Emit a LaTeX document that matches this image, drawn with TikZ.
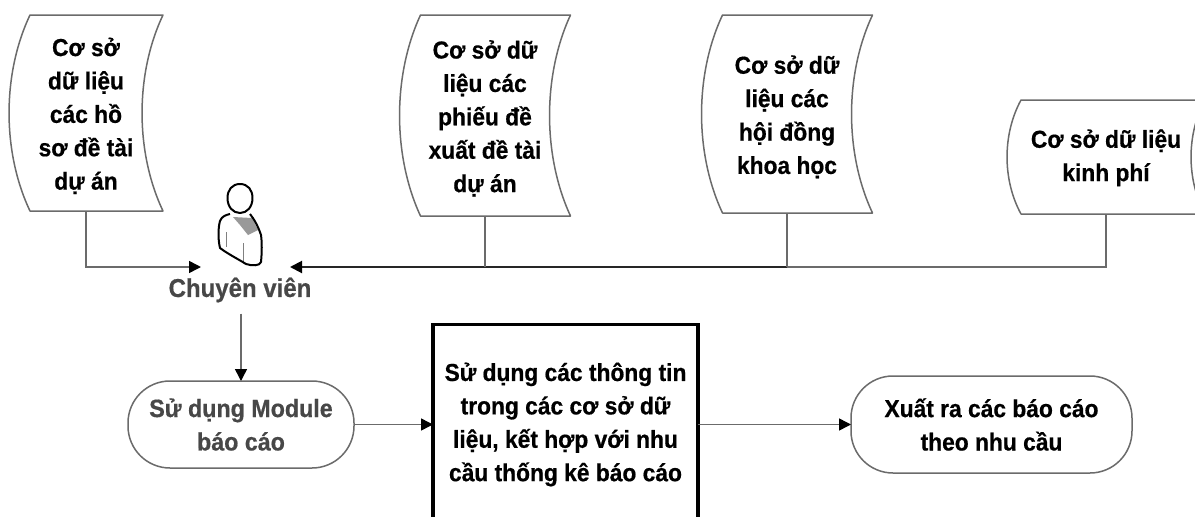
\documentclass[tikz,border=0pt]{standalone}
\usepackage{fontspec}
\setmainfont[BoldFeatures={FakeBold=0.6,FakeStretch=0.93}]{Liberation Sans}
\usetikzlibrary{arrows.meta}
\definecolor{edge}{gray}{0.42}
\tikzset{
  x=1pt,y=-1pt,
  txt/.style={font=\fontsize{24.5}{33.4}\selectfont\bfseries,align=center,text=black},
  docbox/.style={txt,inner sep=0pt,outer sep=0pt},
  shapeline/.style={draw=edge,line width=1.5pt,line join=round},
  conn/.style={draw=edge,line width=1.5pt},
  mainconn/.style={draw=black!85,line width=2pt},
  tip/.style={-{Triangle[length=12pt,width=12pt,color=black,fill=black]}},
  pill/.style={shapeline,rounded corners=42pt,txt,inner sep=0pt,outer sep=0pt,fill=white},
  softtxt/.style={font=\fontsize{25}{33.4}\selectfont\bfseries,text=black!72,align=center},
  person/.style={draw=black,line width=2pt,line join=round}
}
\newcommand{\linestart}{\rule{0pt}{24pt}}
% name, centre x, centre y, width, height, side inset, text
\newcommand{\docnode}[7]{%
  \node[docbox,minimum width=#4pt,minimum height=#5pt] (#1) at (#2,#3) {\linestart #7};
  \draw[shapeline]
    ([xshift=#6pt]#1.north west) -- (#1.north east)
    .. controls ([xshift=-1.33*#6pt,yshift=-0.3*#5pt]#1.north east)
    and ([xshift=-1.33*#6pt,yshift=0.3*#5pt]#1.south east) ..
    (#1.south east) -- ([xshift=#6pt]#1.south west)
    .. controls ([xshift=-0.33*#6pt,yshift=0.3*#5pt]#1.south west)
    and ([xshift=-0.33*#6pt,yshift=-0.3*#5pt]#1.north west) ..
    ([xshift=#6pt]#1.north west) -- cycle;
}
\begin{document}
\begin{tikzpicture}
\useasboundingbox (0,0) rectangle (1195,517);
\clip (0,0) rectangle (1195,517);
\fill[white] (0,0) rectangle (1195,517);

\docnode{d1}{86}{113}{154}{196}{21}{Cơ sở\\dữ liệu\\các hồ\\sơ đề tài\\dự án}
\docnode{d2}{485}{115.5}{171}{201}{21}{Cơ sở dữ\\liệu các\\phiếu đề\\xuất đề tài\\dự án}
\docnode{d3}{787}{114}{171}{198}{21}{Cơ sở dữ\\liệu các\\hội đồng\\khoa học}
\renewcommand{\linestart}{\rule{0pt}{20pt}}
\docnode{d4}{1106}{157}{198}{114}{14}{Cơ sở dữ liệu\\kinh phí}
\renewcommand{\linestart}{\rule{0pt}{24pt}}

% person
\coordinate (pl) at (201,267);
\coordinate (pr) at (290,267);
\fill[black!40] (233,217) -- (252,218) -- (258,230) -- (248,235) -- (240,225) -- cycle;
\draw[black!50,line width=1pt] (226,232) -- (226,247) (243,243) -- (243,262);
\draw[person] (230,214) .. controls (226,215) and (222,216) .. (220,221)
  .. controls (218,228) and (218,240) .. (220,248)
  .. controls (228,254) and (238,259) .. (246,264)
  .. controls (252,266) and (260,266) .. (261,262)
  .. controls (262,252) and (262,242) .. (261,235)
  .. controls (258,226) and (254,219) .. (250,214);
\draw[person] (240,184) .. controls (232,184) and (227.5,190) .. (227.5,198)
  .. controls (227.5,207) and (233,213) .. (240,213)
  .. controls (247,213) and (252.5,207) .. (252.5,198)
  .. controls (252.5,190) and (248,184) .. (240,184) -- cycle;

\node[softtxt,font=\fontsize{25.8}{33.4}\selectfont\bfseries,inner sep=0pt] (cv) at (240,290) {Chuyên viên};

% lower row
\node[pill,softtxt,minimum width=226pt,minimum height=87pt] (p1) at (241,424.5) {Sử dụng Module\\báo cáo};
\node[draw=black,line width=3.5pt,txt,minimum width=265pt,minimum height=200pt,inner sep=0pt,outer sep=0pt] (b) at (565.5,424.5) {Sử dụng các thông tin\\trong các cơ sở dữ\\liệu, kết hợp với nhu\\cầu thống kê báo cáo};
\node[pill,minimum width=281pt,minimum height=97pt] (p2) at (991.5,424.5) {Xuất ra các báo cáo\\theo nhu cầu};

% connectors
\draw[conn,tip] (d1.south) |- (pl);
\draw[conn] (d4.south) |- (d3.south |- pr);
\draw[mainconn,tip] (d3.south |- pr) -- (pr);
\draw[conn] (d2.south) -- (d2.south |- pr);
\draw[conn] (d3.south) -- (d3.south |- pr);
\draw[conn,tip] ([yshift=-11pt]cv.south -| p1.north) -- (p1.north);
\draw[conn,tip] (p1.east) -- (b.west);
\draw[conn,tip] (b.east) -- (p2.west);
\end{tikzpicture}
\end{document}
